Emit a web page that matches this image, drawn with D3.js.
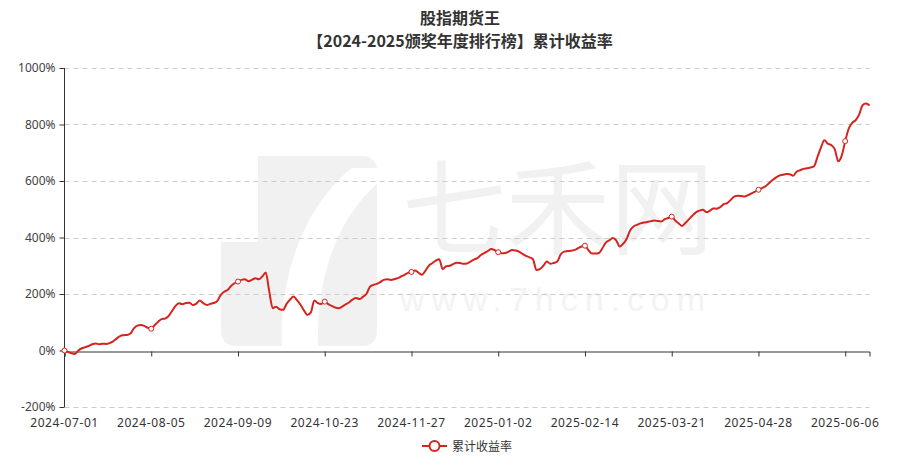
<!DOCTYPE html>
<html><head><meta charset="utf-8">
<script src="https://cdn.jsdelivr.net/npm/d3@7/dist/d3.min.js"></script>
<style>body{margin:0;background:#fff}svg{display:block;font-family:"Noto Sans CJK SC","Noto Sans",sans-serif}</style>
</head><body><svg id="c" width="920" height="465"></svg>
<script>
const holidays = ["2024-09-16","2024-09-17","2024-10-01","2024-10-02","2024-10-03","2024-10-04","2024-10-07",
"2025-01-01","2025-01-28","2025-01-29","2025-01-30","2025-01-31","2025-02-03","2025-02-04","2025-04-04",
"2025-05-01","2025-05-02","2025-05-05","2025-06-02"];
const startDate = "2024-07-01", endDate = "2025-06-17";
const tickLabels = ["2024-07-01","2024-08-05","2024-09-09","2024-10-23","2024-11-27","2025-01-02","2025-02-14","2025-03-21","2025-04-28","2025-06-06"];
const yTicks = [-200,0,200,400,600,800,1000];
const values = [0,-5,-10,-12,0,8,12,16,22,25,22,24,23,26,32,42,51,54,55,60,
78,88,90,87,80,77,90,102,111,113,122,140,158,167,164,168,169,161,166,177,
168,161,165,168,175,196,208,214,228,238,244,250,252,245,250,256,252,262,276,210,
150,155,146,144,165,180,191,178,162,142,126,135,177,168,165,173,164,158,152,150,
155,163,170,180,186,182,190,200,225,232,236,242,250,252,250,252,256,262,268,275,
278,283,276,268,282,300,309,318,323,288,298,300,306,311,310,307,308,315,322,327,
338,345,352,359,355,348,344,345,350,356,354,350,342,335,330,323,285,288,300,315,
307,310,315,340,350,352,353,356,362,368,371,355,343,343,345,362,382,390,398,390,
368,378,395,425,439,445,450,453,455,458,460,458,457,465,469,474,460,450,441,452,
465,478,489,495,498,490,495,503,502,508,518,522,533,545,548,547,545,550,556,562,
569,575,581,592,603,612,619,622,625,624,619,633,638,643,645,648,652,685,718,744,
732,727,712,670,690,741,785,806,815,835,868,874,867];
const seriesName = "累计收益率";
const titleLines = ["股指期货王","【2024-2025颁奖年度排行榜】累计收益率"];

// trading calendar
const fmt = d3.timeFormat("%Y-%m-%d"), parse = d3.timeParse("%Y-%m-%d");
const dates = d3.timeDays(parse(startDate), d3.timeDay.offset(parse(endDate),1))
  .filter(d => d.getDay()!==0 && d.getDay()!==6).map(fmt).filter(s => !holidays.includes(s));
const data = dates.map((d,i)=>({d, v: values[i]})).filter(p => p.v !== undefined);

const svg = d3.select("#c");
const L=64.5, R=869.5, T=68, B=407;
const x = d3.scalePoint().domain(data.map(p=>p.d)).range([L,R]);
const y = d3.scaleLinear().domain([-200,1000]).range([B,T]);
const red = "#d7231d";

// watermark
const wm = svg.append("g").attr("fill","#f1f1f1");
wm.append("rect").attr("x",221).attr("y",156).attr("width",156).attr("height",190).attr("rx",14);
wm.append("path").attr("fill","#fff").attr("d","M221,156 L258,156 L258,242 L221,242 Z");
wm.append("path").attr("fill","#fff").attr("d","M352,168 C310,200 278,270 282,346 L318,346 C316,280 336,220 377,184 L377,168 Z");
wm.append("text").attr("x",558).attr("y",247).attr("text-anchor","middle").attr("font-size",104)
  .attr("font-family","Noto Sans CJK SC").text("七禾网");
wm.append("text").attr("x",400).attr("y",311).attr("font-size",34).attr("textLength",305)
  .attr("font-family","Liberation Sans").attr("fill","#f3f3f3").text("www.7hcn.com");

// grid
svg.append("g").selectAll("line").data(yTicks.filter(t=>t!==0)).join("line")
  .attr("x1",L).attr("x2",R).attr("y1",d=>Math.round(y(d))+0.5).attr("y2",d=>Math.round(y(d))+0.5)
  .attr("stroke","#cccccc").attr("stroke-dasharray","5,4");

// y axis
const ya = svg.append("g").attr("transform",`translate(${L},0)`)
  .call(d3.axisLeft(y).tickValues(yTicks).tickSize(5).tickPadding(4).tickFormat(d=>d+"%"));
ya.selectAll("text").attr("font-size",12).attr("fill","#444").attr("font-family","Noto Sans");
ya.selectAll("line,path").attr("stroke","#333");
ya.select(".domain").attr("d",`M0,${B}V${T}`);

// x axis line at zero
const y0 = Math.round(y(0))+0.5;
const xa = svg.append("g").attr("transform",`translate(0,${y0})`)
  .call(d3.axisBottom(x).tickValues(tickLabels).tickSize(5).tickFormat(""));
xa.selectAll("line,path").attr("stroke","#333");
svg.append("g").selectAll("text").data(tickLabels).join("text")
  .attr("x",d=>x(d)).attr("y",427).attr("text-anchor","middle").attr("font-size",12)
  .attr("fill","#333").attr("font-family","Noto Sans").attr("letter-spacing","0.6").text(d=>d);

// line
svg.append("path").datum(data).attr("fill","none").attr("stroke",red).attr("stroke-width",2)
  .attr("stroke-linejoin","round")
  .attr("d",d3.line().x(p=>x(p.d)).y(p=>y(p.v)).curve(d3.curveMonotoneX));
svg.append("g").selectAll("circle").data(data.filter(p=>tickLabels.includes(p.d))).join("circle")
  .attr("cx",p=>x(p.d)).attr("cy",p=>y(p.v)).attr("r",2.5).attr("fill","#fff").attr("stroke",red).attr("stroke-width",1);

// title
svg.append("g").selectAll("text").data(titleLines).join("text")
  .attr("x",460).attr("y",(d,i)=>23.5+i*23.5).attr("text-anchor","middle").attr("font-size",16)
  .attr("font-weight","bold").attr("fill","#333").text(d=>d);

// legend
const lg = svg.append("g");
lg.append("line").attr("x1",422).attr("x2",447).attr("y1",446).attr("y2",446).attr("stroke",red).attr("stroke-width",2);
lg.append("circle").attr("cx",434.5).attr("cy",446).attr("r",5).attr("fill","#fff").attr("stroke",red).attr("stroke-width",2);
lg.append("text").attr("x",452).attr("y",450.5).attr("font-size",12).attr("fill","#333").text(seriesName);
</script></body></html>
